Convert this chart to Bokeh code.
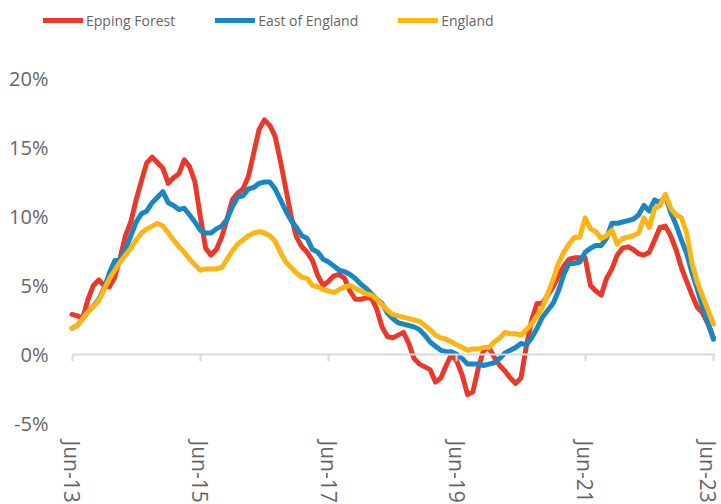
from bokeh.plotting import figure
from bokeh.models import Range1d, FixedTicker, LinearAxis, Legend, LegendItem
from bokeh.embed import file_html
from bokeh.resources import INLINE

# Monthly index: 0 = Jun-13 ... 120 = Jun-23
months = list(range(121))

epping_forest = [
    2.9, 2.8, 2.6, 4.0, 5.0, 5.4, 5.0, 4.9, 5.6, 7.0,
    8.6, 9.6, 11.2, 12.6, 13.9, 14.3, 13.9, 13.5, 12.4, 12.8,
    13.1, 14.1, 13.6, 12.5, 10.0, 7.7, 7.2, 7.6, 8.5, 9.8,
    11.2, 11.7, 12.0, 12.9, 14.6, 16.3, 17.0, 16.6, 15.8, 14.0,
    12.0, 10.0, 8.5, 7.8, 7.4, 6.8, 5.7, 5.0, 5.3, 5.7,
    5.8, 5.5, 4.6, 4.0, 4.0, 4.1, 4.1, 3.3, 2.0, 1.3,
    1.2, 1.4, 1.6, 0.8, -0.3, -0.7, -0.9, -1.1, -2.0, -1.7,
    -0.8, 0.0, -0.5, -1.5, -2.9, -2.7, -1.0, 0.3, 0.5, -0.2,
    -0.8, -1.2, -1.7, -2.1, -1.7, 0.6, 2.5, 3.7, 3.7, 4.3,
    4.9, 5.7, 6.4, 6.9, 7.0, 7.0, 7.0, 5.0, 4.6, 4.3,
    5.5, 6.2, 7.2, 7.7, 7.8, 7.6, 7.3, 7.2, 7.4, 8.3,
    9.2, 9.3, 8.6, 7.6, 6.3, 5.3, 4.3, 3.4, 3.0, 2.2,
    1.2,
]

east_of_england = [
    1.9, 2.1, 2.6, 3.1, 3.5, 4.0, 4.8, 5.9, 6.8, 6.9,
    7.6, 8.6, 9.6, 10.2, 10.4, 11.0, 11.4, 11.8, 11.0, 10.8,
    10.5, 10.6, 10.1, 9.6, 9.0, 8.8, 8.8, 9.1, 9.3, 9.8,
    10.7, 11.4, 11.5, 12.0, 12.1, 12.4, 12.5, 12.5, 12.0, 11.2,
    10.4, 9.7, 9.2, 8.6, 8.4, 7.6, 7.4, 6.9, 6.7, 6.4,
    6.1, 6.0, 5.8, 5.5, 5.1, 4.8, 4.4, 4.0, 3.7, 3.0,
    2.6, 2.3, 2.2, 2.1, 2.0, 1.8, 1.4, 0.9, 0.6, 0.3,
    0.2, 0.2, 0.0, -0.3, -0.7, -0.7, -0.7, -0.8, -0.7, -0.6,
    -0.3, 0.1, 0.3, 0.5, 0.8, 0.7, 1.2, 1.9, 2.7, 3.2,
    3.7, 4.6, 5.8, 6.6, 6.6, 6.7, 7.4, 7.7, 7.9, 7.9,
    8.4, 9.5, 9.5, 9.6, 9.7, 9.8, 10.1, 10.8, 10.4, 11.2,
    11.0, 11.5, 10.3, 9.4, 8.3, 7.3, 5.9, 4.7, 3.4, 2.3,
    1.1,
]

england = [
    1.9, 2.1, 2.6, 3.1, 3.5, 3.9, 4.7, 5.5, 6.1, 6.7,
    7.2, 7.7, 8.3, 8.8, 9.1, 9.3, 9.5, 9.3, 8.8, 8.3,
    7.8, 7.4, 6.9, 6.5, 6.1, 6.2, 6.2, 6.2, 6.3, 6.9,
    7.5, 8.0, 8.3, 8.6, 8.8, 8.9, 8.8, 8.6, 8.2, 7.4,
    6.7, 6.3, 5.9, 5.6, 5.5, 5.0, 4.9, 4.7, 4.6, 4.5,
    4.7, 4.9, 5.0, 4.8, 4.6, 4.4, 4.3, 4.0, 3.6, 3.2,
    2.9, 2.8, 2.7, 2.6, 2.5, 2.4, 2.1, 1.8, 1.4, 1.2,
    1.1, 0.9, 0.7, 0.5, 0.3, 0.4, 0.4, 0.5, 0.5, 0.9,
    1.2, 1.6, 1.5, 1.5, 1.4, 1.8, 2.2, 2.8, 3.4, 4.4,
    5.4, 6.6, 7.4, 8.0, 8.5, 8.5, 9.9, 9.1, 8.9, 8.4,
    8.6, 9.0, 8.0, 8.4, 8.5, 8.6, 8.8, 9.9, 9.2, 10.6,
    10.8, 11.6, 10.6, 10.1, 9.9, 8.8, 6.6, 5.2, 4.2, 3.2,
    2.2,
]

series_names = ["Epping Forest", "East of England", "England"]
series_colors = ["#E8392A", "#1A87C3", "#FCB515"]

x_tick_months = [0, 24, 48, 72, 96, 120]
x_tick_labels = ["Jun-13", "Jun-15", "Jun-17", "Jun-19", "Jun-21", "Jun-23"]
y_ticks = [-5, 0, 5, 10, 15, 20]
y_tick_labels = ["-5%", "0%", "5%", "10%", "15%", "20%"]

TEXT = "#666666"
FONT = "Open Sans"

p = figure(frame_width=679, frame_height=434,
           output_backend="svg", toolbar_location=None,
           x_range=Range1d(-5.52, 121.51), y_range=Range1d(-5.8, 25.65),
           min_border_left=42, min_border_right=0, min_border_top=0,
           min_border_bottom=70)
p.outline_line_color = None
p.grid.visible = False
p.background_fill_color = "white"
p.border_fill_color = "white"

# y axis
ya = p.yaxis[0]
ya.ticker = FixedTicker(ticks=y_ticks)
ya.major_label_overrides = {t: l for t, l in zip(y_ticks, y_tick_labels)}
ya.axis_line_color = None
ya.major_tick_line_color = None
ya.minor_tick_line_color = None
ya.major_tick_out = 0
ya.major_tick_in = 0
ya.major_label_standoff = -6
ya.major_label_text_font = FONT
ya.major_label_text_font_size = "20px"
ya.major_label_text_color = TEXT

# x axis (labels only, at the bottom)
xa = p.xaxis[0]
xa.ticker = FixedTicker(ticks=x_tick_months)
xa.major_label_overrides = {t: l for t, l in zip(x_tick_months, x_tick_labels)}
xa.axis_line_color = None
xa.major_tick_line_color = None
xa.minor_tick_line_color = None
xa.major_tick_out = 0
xa.major_tick_in = 0
xa.major_label_orientation = "vertical"
xa.major_label_standoff = 6
xa.major_label_text_font = FONT
xa.major_label_text_font_size = "21px"
xa.major_label_text_color = TEXT

# zero-line axis with downward tick marks
za = LinearAxis(fixed_location=0, ticker=FixedTicker(ticks=x_tick_months),
                bounds=(x_tick_months[0], x_tick_months[-1] + 0.4),
                axis_line_color="#D9D9D9", axis_line_width=2,
                major_tick_line_color="#D9D9D9", major_tick_line_width=2,
                major_tick_in=7, major_tick_out=0,
                minor_tick_line_color=None,
                major_label_text_font_size="0px", major_label_text_alpha=0,
                major_label_standoff=0)
p.add_layout(za, "above")

renderers = []
for vals, color in zip([epping_forest, east_of_england, england], series_colors):
    r = p.line(months, vals, line_color=color, line_width=5,
               line_join="round", line_cap="round")
    renderers.append(r)

legend = Legend(items=[LegendItem(label=n, renderers=[r]) for n, r in zip(series_names, renderers)],
                orientation="horizontal", location=(1, 404),
                glyph_width=40, glyph_height=20, label_height=20,
                label_standoff=3, spacing=40, padding=0, margin=0,
                background_fill_alpha=0, border_line_color=None,
                label_text_font=FONT, label_text_font_size="14px",
                label_text_color=TEXT)
p.add_layout(legend)

open("out.html", "w").write(file_html(p, INLINE))
